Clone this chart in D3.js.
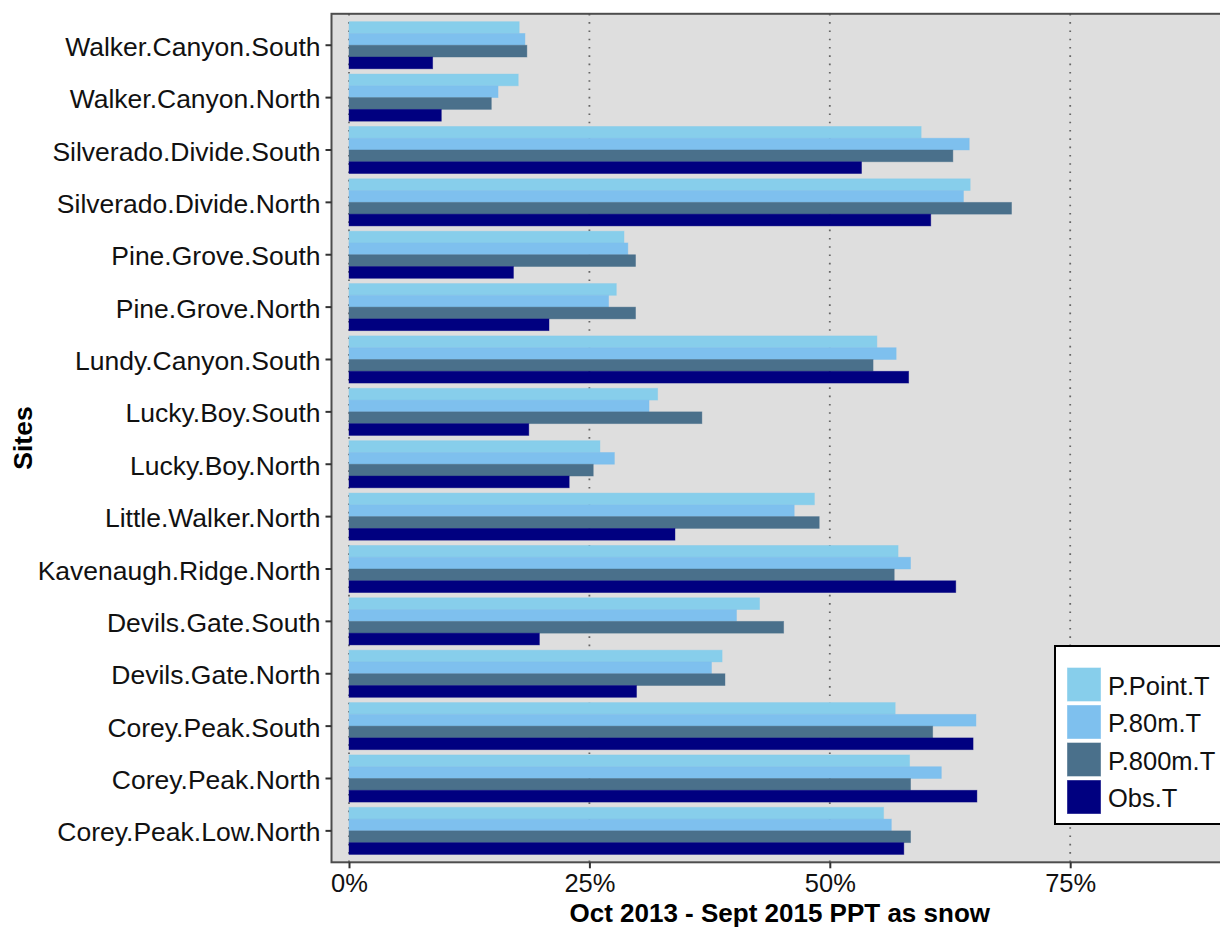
<!DOCTYPE html>
<html>
<head>
<meta charset="utf-8">
<script src="https://cdn.jsdelivr.net/npm/d3@7"></script>
<style>
  html, body { margin: 0; padding: 0; background: #ffffff; }
  svg { display: block; font-family: "Liberation Sans", Arial, sans-serif; }
</style>
</head>
<body>
<svg id="chart" width="1220" height="928"></svg>
<script>
// Sites, listed top to bottom
const sites = [
  "Walker.Canyon.South", "Walker.Canyon.North",
  "Silverado.Divide.South", "Silverado.Divide.North",
  "Pine.Grove.South", "Pine.Grove.North",
  "Lundy.Canyon.South",
  "Lucky.Boy.South", "Lucky.Boy.North",
  "Little.Walker.North",
  "Kavenaugh.Ridge.North",
  "Devils.Gate.South", "Devils.Gate.North",
  "Corey.Peak.South", "Corey.Peak.North", "Corey.Peak.Low.North"
];

const seriesNames = ["P.Point.T", "P.80m.T", "P.800m.T", "Obs.T"];
const seriesColors = ["#87CEEB", "#7EC0EE", "#4A708B", "#000080"];

// Percent of precipitation falling as snow, Oct 2013 - Sept 2015
const pPoint = [17.7, 17.6, 59.5, 64.6, 28.6, 27.8, 54.9, 32.1, 26.1, 48.4, 57.1, 42.7, 38.8, 56.8, 58.3, 55.6];
const p80m   = [18.3, 15.5, 64.5, 63.9, 29.0, 27.0, 56.9, 31.2, 27.6, 46.3, 58.4, 40.3, 37.7, 65.2, 61.6, 56.4];
const p800m  = [18.5, 14.8, 62.8, 68.9, 29.8, 29.8, 54.5, 36.7, 25.4, 48.9, 56.7, 45.2, 39.1, 60.7, 58.4, 58.4];
const obs    = [8.7,  9.6,  53.3, 60.5, 17.1, 20.8, 58.2, 18.7, 22.9, 33.9, 63.1, 19.8, 29.9, 64.9, 65.3, 57.7];

const xTicks = [0, 25, 50, 75];
const xTickLabels = ["0%", "25%", "50%", "75%"];

const seriesValues = [pPoint, p80m, p800m, obs];
const rows = [];
sites.forEach((s, i) => {
  seriesNames.forEach((n, j) => rows.push({ site: s, series: n, value: seriesValues[j][i] }));
});

const svg = d3.select("#chart");

// Plot panel geometry
const panel = { left: 331.5, top: 13.8, right: 1228, bottom: 862.3 };

const x = d3.scaleLinear().domain([0, 75]).range([349, 349 + 75 * 9.616]);

const y = d3.scaleBand()
  .domain(sites)
  .range([panel.top, panel.bottom])
  .paddingInner(0)
  .paddingOuter(0.1);

const ySeries = d3.scaleBand()
  .domain(seriesNames)
  .range([y.bandwidth() * 0.05, y.bandwidth() * 0.95])
  .padding(0);

const color = d3.scaleOrdinal().domain(seriesNames).range(seriesColors);

const clipId = "panel-clip";
svg.append("defs").append("clipPath").attr("id", clipId)
  .append("rect")
  .attr("x", panel.left).attr("y", panel.top)
  .attr("width", panel.right - panel.left).attr("height", panel.bottom - panel.top);

// Panel background
svg.append("rect")
  .attr("x", panel.left).attr("y", panel.top)
  .attr("width", panel.right - panel.left).attr("height", panel.bottom - panel.top)
  .attr("fill", "#DEDEDE");

// Dotted vertical gridlines
svg.append("g").attr("clip-path", `url(#${clipId})`)
  .selectAll("line").data(xTicks).join("line")
  .attr("x1", d => x(d)).attr("x2", d => x(d))
  .attr("y1", panel.top).attr("y2", panel.bottom)
  .attr("stroke", "#666")
  .attr("stroke-width", 1.8)
  .attr("stroke-dasharray", "1.6,6.7");

// Bars
svg.append("g").attr("clip-path", `url(#${clipId})`)
  .selectAll("rect").data(rows).join("rect")
  .attr("x", x(0))
  .attr("y", d => y(d.site) + ySeries(d.series))
  .attr("width", d => x(d.value) - x(0))
  .attr("height", ySeries.bandwidth())
  .attr("fill", d => color(d.series))
  .attr("stroke", d => color(d.series))
  .attr("stroke-opacity", 0.5)
  .attr("stroke-width", 0.8);

// Panel border
svg.append("rect")
  .attr("x", panel.left).attr("y", panel.top)
  .attr("width", panel.right - panel.left).attr("height", panel.bottom - panel.top)
  .attr("fill", "none")
  .attr("stroke", "#4d4d4d")
  .attr("stroke-width", 2);

// Y axis
const yAxis = svg.append("g")
  .attr("transform", `translate(${panel.left},0)`)
  .call(d3.axisLeft(y).tickSize(6).tickPadding(5));
yAxis.select(".domain").remove();
yAxis.selectAll(".tick line").attr("stroke", "#333").attr("stroke-width", 2);
yAxis.selectAll(".tick text")
  .attr("fill", "#111")
  .attr("dy", "0.4em")
  .style("font-size", "26.5px")
  .style("font-family", "'Liberation Sans', Arial, sans-serif");

// X axis
const xAxis = svg.append("g")
  .attr("transform", `translate(0,${panel.bottom})`)
  .call(d3.axisBottom(x).tickValues(xTicks).tickFormat((d, i) => xTickLabels[i]).tickSize(6).tickPadding(6));
xAxis.select(".domain").remove();
xAxis.selectAll(".tick line").attr("stroke", "#333").attr("stroke-width", 2);
xAxis.selectAll(".tick text")
  .attr("fill", "#111")
  .style("font-size", "25.5px")
  .style("font-family", "'Liberation Sans', Arial, sans-serif");

// Axis titles
svg.append("text")
  .attr("x", (panel.left + panel.right) / 2)
  .attr("y", 922)
  .attr("text-anchor", "middle")
  .attr("fill", "#000")
  .style("font-size", "26px")
  .style("font-weight", "bold")
  .text("Oct 2013 - Sept 2015 PPT as snow");

svg.append("text")
  .attr("transform", `translate(32,${(panel.top + panel.bottom) / 2}) rotate(-90)`)
  .attr("text-anchor", "middle")
  .attr("fill", "#000")
  .style("font-size", "26.5px")
  .style("font-weight", "bold")
  .text("Sites");

// Legend
const legend = svg.append("g");
legend.append("rect")
  .attr("x", 1055).attr("y", 646)
  .attr("width", 190).attr("height", 178)
  .attr("fill", "#fff")
  .attr("stroke", "#000")
  .attr("stroke-width", 2);

const keyStep = 37.5;
const items = legend.selectAll("g.item").data(seriesNames).join("g")
  .attr("class", "item")
  .attr("transform", (d, i) => `translate(1067,${667.5 + i * keyStep})`);
items.append("rect")
  .attr("width", 34).attr("height", 34)
  .attr("fill", d => color(d))
  .attr("stroke", "#fff")
  .attr("stroke-opacity", 0.4)
  .attr("stroke-width", 1);
items.append("text")
  .attr("x", 41).attr("y", 18)
  .attr("dominant-baseline", "central")
  .attr("fill", "#111")
  .style("font-size", "25.5px")
  .text(d => d);
</script>
</body>
</html>
